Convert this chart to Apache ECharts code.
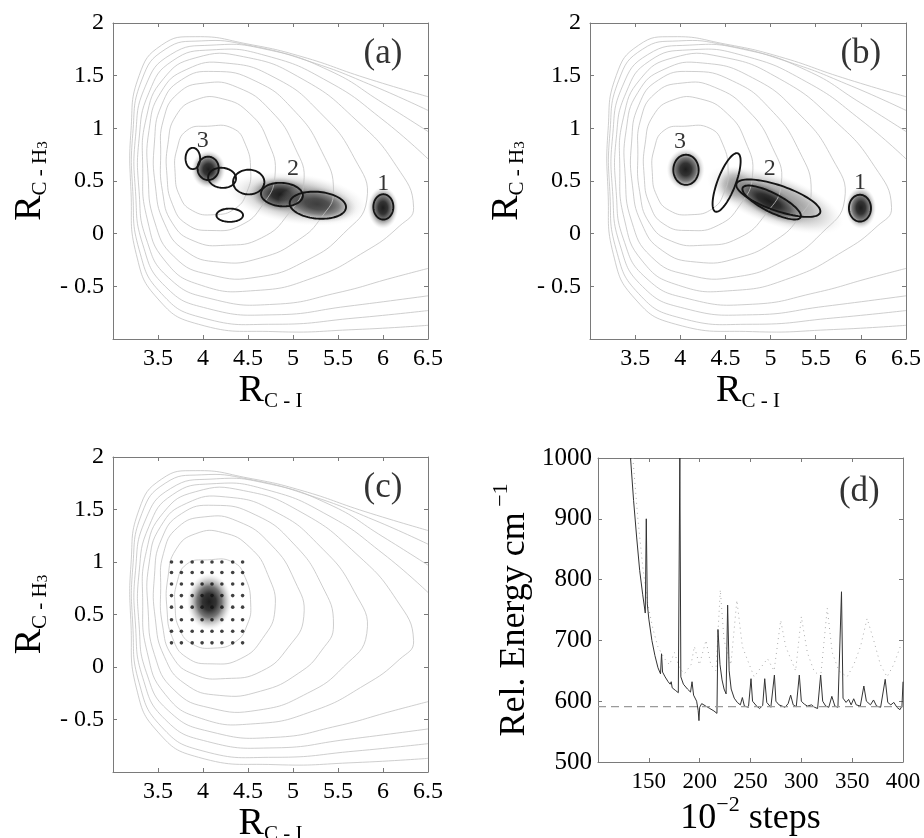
<!DOCTYPE html>
<html><head><meta charset="utf-8">
<script src="https://cdn.jsdelivr.net/npm/echarts@6/dist/echarts.min.js"></script>
<style>html,body{margin:0;padding:0;background:#fff}#chart{width:924px;height:838px}</style>
</head><body><div id="chart"></div>
<script>
// ---------- potential energy contour lines ([R_C-I, R_C-H3]) ----------
const contourC1 = [[4.53,0.60],[4.47,0.85],[4.33,1.0],[4.05,1.02],[3.82,0.98],[3.71,0.80],[3.69,0.58],[3.74,0.36],[3.88,0.22],[4.12,0.18],[4.36,0.24],[4.49,0.40],[4.53,0.60]];
const contourC2 = [[4.80,0.55],[4.72,0.88],[4.52,1.14],[4.22,1.28],[3.92,1.27],[3.70,1.12],[3.61,0.85],[3.60,0.55],[3.66,0.28],[3.82,0.09],[4.10,0.03],[4.42,0.08],[4.66,0.27],[4.80,0.55]];
const contourC3 = [[5.12,0.48],[5.02,0.82],[4.75,1.17],[4.38,1.39],[4.02,1.43],[3.72,1.33],[3.56,1.08],[3.53,0.75],[3.55,0.40],[3.66,0.10],[3.90,-0.07],[4.25,-0.11],[4.65,-0.04],[4.95,0.19],[5.12,0.48]];
const contourC4 = [[5.45,0.40],[5.32,0.78],[5.00,1.18],[4.58,1.45],[4.12,1.54],[3.76,1.46],[3.54,1.22],[3.46,0.86],[3.47,0.46],[3.57,0.10],[3.80,-0.16],[4.18,-0.27],[4.64,-0.23],[5.06,-0.06],[5.32,0.16],[5.45,0.40]];
const contourC5 = [[5.82,0.32],[5.68,0.72],[5.30,1.15],[4.80,1.48],[4.25,1.62],[3.82,1.56],[3.53,1.34],[3.40,0.98],[3.39,0.55],[3.46,0.12],[3.68,-0.22],[4.08,-0.39],[4.62,-0.41],[5.16,-0.25],[5.56,0.00],[5.82,0.32]];
const contourC6 = [[6.34,0.25],[6.15,0.64],[5.70,1.08],[5.10,1.47],[4.45,1.68],[3.92,1.67],[3.56,1.47],[3.37,1.10],[3.33,0.62],[3.38,0.14],[3.58,-0.26],[3.98,-0.49],[4.58,-0.54],[5.22,-0.42],[5.80,-0.17],[6.18,0.07],[6.34,0.25]];
const contourO1 = [[6.5,0.71],[6.0,1.08],[5.4,1.44],[4.7,1.69],[4.1,1.745],[3.66,1.64],[3.40,1.34],[3.29,0.90],[3.29,0.40],[3.37,-0.05],[3.62,-0.42],[4.10,-0.62],[4.80,-0.67],[5.50,-0.56],[6.10,-0.42],[6.5,-0.33]];
const contourO2 = [[6.5,0.97],[6.0,1.24],[5.4,1.55],[4.7,1.75],[4.1,1.79],[3.64,1.70],[3.36,1.40],[3.25,0.92],[3.25,0.40],[3.33,-0.10],[3.58,-0.50],[4.05,-0.71],[4.80,-0.77],[5.60,-0.69],[6.5,-0.59]];
const contourO3 = [[6.5,1.17],[5.9,1.40],[5.2,1.63],[4.5,1.79],[3.98,1.83],[3.58,1.75],[3.32,1.46],[3.22,0.95],[3.22,0.40],[3.29,-0.15],[3.54,-0.57],[4.00,-0.80],[4.80,-0.86],[5.70,-0.80],[6.5,-0.73]];
const contourO4 = [[6.5,1.30],[5.8,1.48],[5.1,1.68],[4.5,1.80],[3.92,1.87],[3.54,1.79],[3.29,1.50],[3.20,0.98],[3.20,0.40],[3.26,-0.20],[3.50,-0.62],[3.95,-0.86],[4.80,-0.93],[5.70,-0.91],[6.5,-0.87]];
const contoursPES = [contourC1, contourC2, contourC3, contourC4, contourC5, contourC6, contourO1, contourO2, contourO3, contourO4];

// ---------- density blobs: [x, y, radiusX, radiusY, angleDeg, intensity] ----------
const blobsA = [[5.05,0.33,0.78,0.24,-8,0.45],[4.06,0.61,0.19,0.18,0,1.0],[4.87,0.37,0.36,0.17,-5,1.0],[5.27,0.28,0.44,0.17,-8,0.75],[6.00,0.245,0.17,0.20,0,1.0]];
const blobsB = [[5.05,0.32,0.80,0.24,-20,0.5],[4.60,0.46,0.22,0.18,0,0.3],[4.06,0.61,0.21,0.20,0,1.0],[4.98,0.31,0.48,0.15,-27,1.0],[6.00,0.245,0.17,0.20,0,1.0]];
const blobsC = [[4.07,0.62,0.25,0.27,0,1.0]];

// ---------- ellipse outlines: [x, y, semiAxisX, semiAxisY, angleDeg] ----------
const ellipsesA = [[3.887,0.714,0.081,0.101,0],[4.057,0.62,0.118,0.111,0],[4.212,0.53,0.155,0.095,-5],[4.508,0.49,0.174,0.117,0],[4.877,0.371,0.233,0.111,-4],[5.276,0.27,0.314,0.127,-5],[4.297,0.175,0.148,0.063,0],[6.004,0.254,0.111,0.120,0]];
const ellipsesB = [[4.063,0.606,0.14,0.143,0],[4.513,0.486,0.346,0.086,69],[5.086,0.337,0.49,0.12,-19],[5.012,0.296,0.36,0.089,-27],[5.99,0.242,0.122,0.127,0]];

// ---------- state labels ----------
const stateLabelsA = [['3',3.998,0.887],['2',5.0,0.62],['1',6.004,0.476]];
const stateLabelsB = [['3',3.997,0.876],['2',4.99,0.62],['1',5.99,0.48]];
const panelTags = [['(a)',6.0,1.71],['(b)',6.0,1.71],['(c)',6.0,1.71],['(d)',357,945]];

// ---------- grid of points in panel (c) ----------
const gridPointsX = [3.65,3.76,3.88,3.99,4.10,4.21,4.33,4.44];
const gridPointsY = [0.23,0.34,0.45,0.57,0.68,0.79,0.90,1.00];

// ---------- panel (d): relative energy vs 10^-2 steps ----------
const energySolid = [[132,1000],[135,930],[138,870],[141,815],[144,775],[146.5,745],[147.5,900],[148.5,760],[150,735],[153,700],[156,675],[159,655],[161.5,645],[162.5,678],[163.5,648],[166,640],[169,632],[171,628],[172,632],[173,622],[176,618],[179,614],[180.5,1000],[181.5,640],[184,628],[188,620],[191,615],[192.5,632],[194,610],[197,600],[198.5,585],[199.3,568],[200,590],[202,596],[206,592],[210,588],[214,584],[217,580],[218,718],[220,660],[222,635],[224,620],[226,612],[227.5,758],[229,650],[231,620],[234,605],[237,598],[240,594],[242,606],[244,592],[248,590],[250.5,637],[252,600],[256,592],[259,588],[262,593],[264,637],[266,598],[270,590],[273.5,643],[275,600],[278,594],[281,592],[284,590],[287,596],[289.5,610],[292,594],[295,591],[298,643],[300,600],[303,595],[306,592],[310,594],[313,590],[316,588],[319,643],[321,600],[324,592],[327,590],[330,608],[333,592],[336,590],[339.5,780],[341,605],[344,598],[346.5,603],[349,594],[351.5,604],[354,594],[358,592],[361.5,625],[364,600],[368,594],[371,602],[374,592],[378,590],[382.5,636],[385,598],[388,594],[391,598],[394,590],[397,586],[399,592],[400,632]];
const energyDotted = [[134.3,1000],[139.2,900],[144.1,820],[149,760],[153.9,720],[158.8,690],[165.4,670],[170.3,660],[175.2,680],[180,655],[185,645],[191.5,660],[194.8,690],[199.7,660],[206.2,700],[211,660],[216,650],[220.3,783],[224,700],[230.7,660],[236.6,766],[242,690],[247,668],[253.6,640],[260,655],[266.7,670],[273.2,650],[279.7,733],[284.6,690],[289.5,670],[294.4,650],[300,739],[305.9,680],[312.4,650],[319,640],[325.5,753],[330.4,680],[336.9,650],[345,640],[351.6,660],[358.2,690],[364.7,736],[371.2,700],[377.8,660],[384.3,640],[390.8,660],[397.4,690]];
const energyReference = 591;

// ---------------------------------------------------------------
const FONT = "'Liberation Serif', 'Times New Roman', serif";
const INK = '#000';
const FRAME = '#7a7a7a';

const grids = [
  {left:113, top:23, width:315, height:316},
  {left:590, top:23, width:316, height:316},
  {left:113, top:457, width:315, height:315},
  {left:598, top:458, width:305, height:304}
];

function fmtPES(v){ if (Math.abs(v - Math.round(v*2)/2) > 1e-9) return ''; if (v < 0) return '- ' + String(-v); return String(v); }

const richX = {
  R:{fontFamily:FONT,fontSize:38,color:INK,lineHeight:42},
  s:{fontFamily:FONT,fontSize:21,color:INK,lineHeight:21,verticalAlign:'bottom'}
};
const richY = {
  R:{fontFamily:FONT,fontSize:38,color:INK,lineHeight:42},
  s:{fontFamily:FONT,fontSize:21,color:INK,lineHeight:21,verticalAlign:'bottom'},
  t:{fontFamily:FONT,fontSize:15,color:INK,lineHeight:9,verticalAlign:'bottom'}
};
const richD = {
  m:{fontFamily:FONT,fontSize:36,color:INK,lineHeight:50},
  p:{fontFamily:FONT,fontSize:22,color:INK,lineHeight:22,verticalAlign:'top'}
};

const xAxes = [], yAxes = [];
function frameAxis(gi, isX, pos, min, max, interval, labelCfg, name, nameGap, rich){
  const ax = {
    gridIndex: gi, type:'value', min, max, interval, position: pos,
    axisLine:{show:true, onZero:false, lineStyle:{color:FRAME, width:1}},
    axisTick:{show:true, inside:true, length:4, lineStyle:{color:FRAME}},
    splitLine:{show:false},
    axisLabel: labelCfg ? labelCfg : {show:false}
  };
  if (name){ ax.name = name; ax.nameLocation='middle'; ax.nameGap = nameGap; ax.nameTextStyle = {rich}; }
  (isX ? xAxes : yAxes).push(ax);
}
const pesNameX = '{R|R}{s|C - I}';
const pesNameY = '{R|R}{s|C - H}{t|3}';
for (let gi=0; gi<3; gi++){
  frameAxis(gi,true,'bottom',3,6.5,0.5,{fontFamily:FONT,fontSize:24,color:INK,margin:8,formatter:v=> (v===3?'':fmtPES(v))}, pesNameX, 31, richX);
  frameAxis(gi,true,'top',3,6.5,0.5,null);
  frameAxis(gi,false,'left',-1,2,0.5,{fontFamily:FONT,fontSize:24,color:INK,margin:9,formatter:v=> (v===-1?'':fmtPES(v))}, pesNameY, 62, richY);
  frameAxis(gi,false,'right',-1,2,0.5,null);
}
frameAxis(3,true,'bottom',100,400,50,{fontFamily:FONT,fontSize:23,color:INK,margin:8,formatter:v=>(v===100?'':String(v))}, '{m|10}{p|−2}{m| steps}', 30, richD);
frameAxis(3,true,'top',100,400,50,null);
frameAxis(3,false,'left',500,1000,100,{fontFamily:FONT,fontSize:25,color:INK,margin:6,formatter:v=>String(v)}, '{m|Rel. Energy cm}{p| −1}', 58, richD);
frameAxis(3,false,'right',500,1000,100,null);

function blobItem(params, api){
  const c = api.coord([api.value(0), api.value(1)]);
  const s = api.size([api.value(2), api.value(3)]);
  const k = api.value(5);
  return {
    type:'circle', x:c[0], y:c[1], rotation: api.value(4)*Math.PI/180,
    scaleX: s[0]/s[1], scaleY: 1,
    shape:{cx:0, cy:0, r:s[1]},
    style:{fill: new echarts.graphic.RadialGradient(0.5,0.5,0.5,[
      {offset:0, color:'rgba(25,25,25,'+(0.98*k)+')'},
      {offset:0.3, color:'rgba(40,40,40,'+(0.95*k)+')'},
      {offset:0.55, color:'rgba(80,80,80,'+(0.78*k)+')'},
      {offset:0.78, color:'rgba(140,140,140,'+(0.4*k)+')'},
      {offset:1, color:'rgba(210,210,210,0)'}
    ])}
  };
}
function ellipseItem(params, api){
  const c = api.coord([api.value(0), api.value(1)]);
  const s = api.size([api.value(2), api.value(3)]);
  const a = s[0], b = s[1], th = api.value(4)*Math.PI/180;
  const pts = [];
  for (let i=0;i<90;i++){
    const p = i/90*2*Math.PI, ex = a*Math.cos(p), ey = b*Math.sin(p);
    pts.push([c[0]+ex*Math.cos(th)-ey*Math.sin(th), c[1]-(ex*Math.sin(th)+ey*Math.cos(th))]);
  }
  return {type:'polygon', shape:{points:pts}, style:{fill:'none', stroke:'#141414', lineWidth:1.9}};
}
function contourItem(params, api){
  const cv = contoursPES[api.value(2)];
  const pts = cv.map(p => api.coord(p));
  const closed = cv[0][0] === cv[cv.length-1][0] && cv[0][1] === cv[cv.length-1][1];
  if (closed) pts.pop();
  return {type: closed ? 'polygon' : 'polyline', shape:{points:pts, smooth:0.5}, style:{fill:'none', stroke:'#c2c2c2', lineWidth:0.8}};
}

const series = [];
function axisIdx(gi){ return {xAxisIndex:2*gi, yAxisIndex:2*gi}; }
function addBlobs(gi, data){
  series.push(Object.assign({type:'custom', renderItem:blobItem, data, clip:true, silent:true, encode:{x:0,y:1}}, axisIdx(gi)));
}
function addContours(gi){
  series.push(Object.assign({type:'custom', renderItem:contourItem, clip:true, silent:true, encode:{x:0,y:1},
    data: contoursPES.map((cv, i) => [cv[0][0], cv[0][1], i])}, axisIdx(gi)));
}
function addEllipses(gi, data){
  series.push(Object.assign({type:'custom', renderItem:ellipseItem, data, clip:true, silent:true, encode:{x:0,y:1}}, axisIdx(gi)));
}
function addLabels(gi, list, size){
  series.push(Object.assign({type:'scatter', symbolSize:1, itemStyle:{color:'rgba(0,0,0,0)'}, silent:true,
    data: list.map(l => ({name:l[0], value:[l[1], l[2]]})),
    label:{show:true, position:'inside', formatter:'{b}', fontFamily:FONT, fontSize:size, color:INK}}, axisIdx(gi)));
}

// panel (a)
addBlobs(0, blobsA); addContours(0); addEllipses(0, ellipsesA); addLabels(0, stateLabelsA, 24); addLabels(0, [panelTags[0]], 35);
// panel (b)
addBlobs(1, blobsB); addContours(1); addEllipses(1, ellipsesB); addLabels(1, stateLabelsB, 24); addLabels(1, [panelTags[1]], 35);
// panel (c)
addBlobs(2, blobsC); addContours(2);
const gridPts = []; gridPointsY.forEach(y => gridPointsX.forEach(x => gridPts.push([x, y])));
series.push(Object.assign({type:'scatter', data:gridPts, symbolSize:3.6, itemStyle:{color:'#111'}, silent:true}, axisIdx(2)));
addLabels(2, [panelTags[2]], 35);
// panel (d)
series.push(Object.assign({type:'line', data:energyDotted, showSymbol:false, symbol:'none', clip:true, silent:true, lineStyle:{color:'#ababab', width:1, type:[1,4]}}, axisIdx(3)));
series.push(Object.assign({type:'line', data:energySolid, showSymbol:false, symbol:'none', clip:true, silent:true, lineStyle:{color:'#333', width:1}}, axisIdx(3)));
series.push(Object.assign({type:'line', data:[[100,energyReference],[400,energyReference]], showSymbol:false, symbol:'none', silent:true, lineStyle:{color:'#9a9a9a', width:1.3, type:[8,5]}}, axisIdx(3)));
addLabels(3, [panelTags[3]], 35);

const chart = echarts.init(document.getElementById('chart'), null, {renderer:'canvas'});
chart.setOption({
  animation:false,
  backgroundColor:'#fff',
  grid: grids.map(g => Object.assign({containLabel:false, outerBoundsMode:'none'}, g)),
  xAxis: xAxes, yAxis: yAxes, series
});
</script></body></html>
